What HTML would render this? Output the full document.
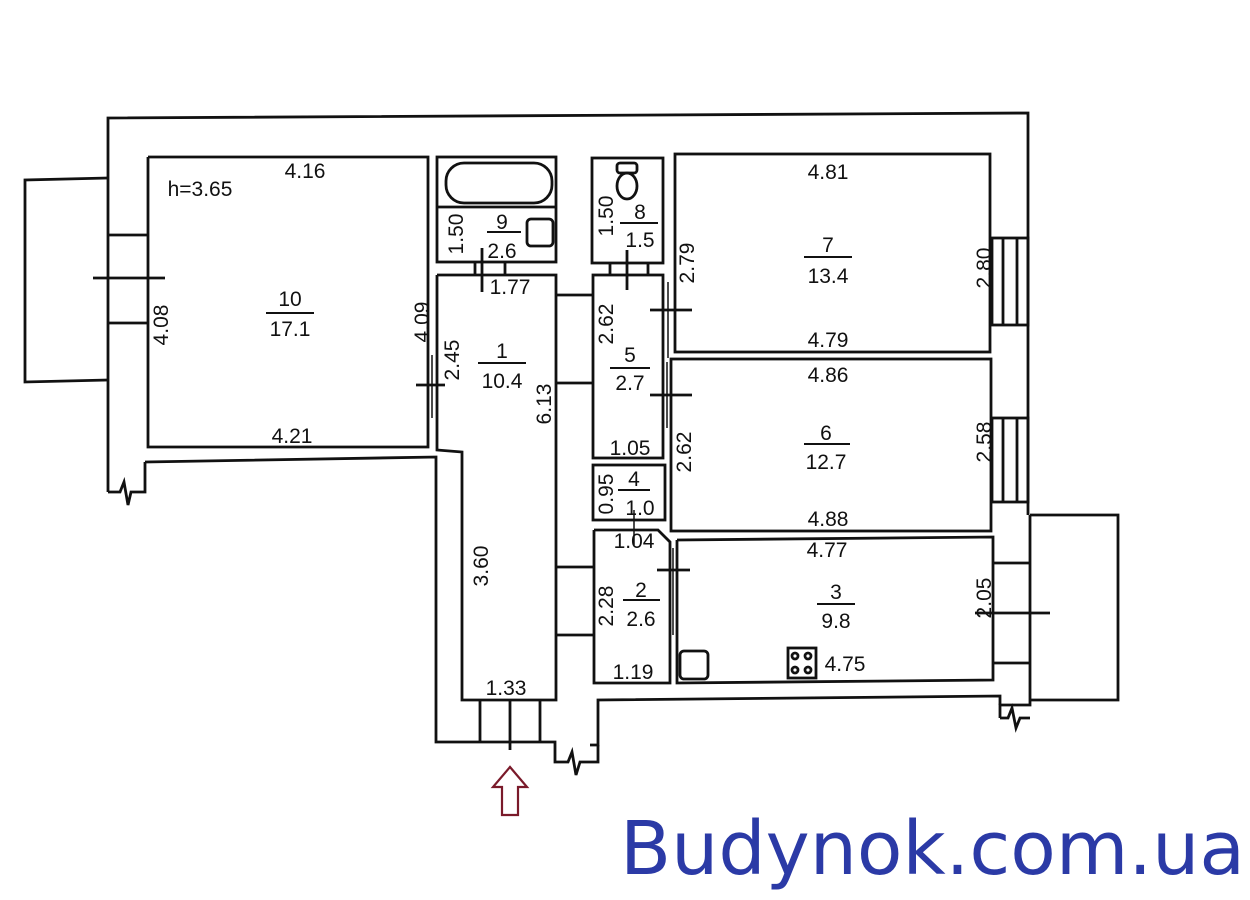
<!DOCTYPE html>
<html><head><meta charset="utf-8"><style>
html,body{margin:0;padding:0;background:#fff;width:1250px;height:900px;overflow:hidden}
svg text{font-family:"Liberation Sans",sans-serif;font-size:21px;fill:#111}
</style></head><body>
<svg width="1250" height="900" viewBox="0 0 1250 900" xmlns="http://www.w3.org/2000/svg">
<g fill="none" stroke="#111" stroke-width="2.8" stroke-linejoin="miter">
<polyline points="108,492 108,118 1028,113 1028,515"/>
<polyline points="1030,515 1030,705 1000,705 1000,718"/>
<path d="M1000,718 L1008,718 L1012,708 L1016,728 L1020,718 L1030,718"/>
<polyline points="108,178 25,180 25,382 108,380"/>
<polyline points="1030,515 1118,515 1118,700 1030,700"/>
<line x1="108" y1="235" x2="148" y2="235"/>
<line x1="108" y1="323" x2="148" y2="323"/>
<line x1="93" y1="278" x2="165" y2="278"/>
<path d="M108,492 L120,492 L124,482 L128,505 L131,492 L145,492 L145,462"/>
<polyline points="145,462 436,457 436,742 480,742"/>
<polyline points="148,157 428,157 428,447 148,447 148,157"/>
<rect x="437" y="157" width="119" height="105"/>
<line x1="437" y1="207" x2="556" y2="207"/>
<rect x="446" y="163" width="106" height="40" rx="18"/>
<rect x="527" y="219" width="26" height="27" rx="4"/>
<rect x="592" y="158" width="71" height="105"/>
<rect x="617" y="163" width="20" height="10" rx="3"/>
<ellipse cx="627" cy="186" rx="10" ry="13"/>
<line x1="475" y1="262" x2="475" y2="275"/>
<line x1="505" y1="262" x2="505" y2="275"/>
<line x1="482" y1="248" x2="482" y2="292"/>
<line x1="610" y1="263" x2="610" y2="275"/>
<line x1="648" y1="263" x2="648" y2="275"/>
<line x1="627" y1="250" x2="627" y2="290"/>
<polyline points="437,275 556,275 556,700 462,700 462,452 437,450 437,275"/>
<line x1="432" y1="355" x2="432" y2="418" stroke-width="1.5"/>
<line x1="416" y1="385" x2="445" y2="385"/>
<line x1="556" y1="295" x2="593" y2="295"/>
<line x1="556" y1="383" x2="593" y2="383"/>
<line x1="556" y1="567" x2="593" y2="567"/>
<line x1="556" y1="635" x2="593" y2="635"/>
<rect x="593" y="275" width="70" height="183"/>
<line x1="650" y1="310" x2="692" y2="310"/>
<line x1="650" y1="395" x2="692" y2="395"/>
<line x1="668" y1="282" x2="668" y2="358" stroke-width="1.5"/>
<line x1="667" y1="362" x2="667" y2="428" stroke-width="1.5"/>
<rect x="593" y="465" width="72" height="55"/>
<line x1="634" y1="510" x2="634" y2="545" stroke-width="1.5"/>
<polyline points="594,530 658,530 670,542 670,683 594,683 594,530"/>
<line x1="657" y1="570" x2="690" y2="570"/>
<line x1="673" y1="548" x2="673" y2="635" stroke-width="1.5"/>
<rect x="675" y="154" width="315" height="198"/>
<rect x="671" y="359" width="320" height="172"/>
<polyline points="677,540 993,537 993,680 677,683 677,540"/>
<rect x="680" y="651" width="28" height="28" rx="4"/>
<rect x="788" y="648" width="28" height="30"/>
<circle cx="795" cy="656" r="3"/><circle cx="808" cy="656" r="3"/>
<circle cx="795" cy="670" r="3"/><circle cx="808" cy="670" r="3"/>
<rect x="992" y="238" width="36" height="87"/>
<line x1="1003" y1="238" x2="1003" y2="325"/><line x1="1017" y1="238" x2="1017" y2="325"/>
<rect x="992" y="418" width="36" height="84"/>
<line x1="1003" y1="418" x2="1003" y2="502"/><line x1="1017" y1="418" x2="1017" y2="502"/>
<line x1="993" y1="563" x2="1030" y2="563"/>
<line x1="993" y1="663" x2="1030" y2="663"/>
<line x1="975" y1="613" x2="1050" y2="613"/>
<polyline points="1000,705 1000,696 598,700 598,745 590,745"/>
<path d="M545,742 L555,742 L555,762 L568,762 L572,752 L576,775 L580,762 L590,762 L598,762 L598,745"/>
<line x1="480" y1="742" x2="545" y2="742"/>
<line x1="480" y1="700" x2="480" y2="742"/>
<line x1="540" y1="700" x2="540" y2="742"/>
<line x1="510" y1="700" x2="510" y2="750"/>
</g>
<g stroke="#111" stroke-width="2">
<line x1="266" y1="313" x2="314" y2="313"/>
<line x1="478" y1="363" x2="526" y2="363"/>
<line x1="487" y1="232" x2="521" y2="232"/>
<line x1="620" y1="223" x2="658" y2="223"/>
<line x1="610" y1="368" x2="650" y2="368"/>
<line x1="618" y1="490" x2="650" y2="490"/>
<line x1="623" y1="600" x2="660" y2="600"/>
<line x1="804" y1="257" x2="852" y2="257"/>
<line x1="804" y1="444" x2="850" y2="444"/>
<line x1="817" y1="604" x2="855" y2="604"/>
</g>
<polygon points="510,767 527,787 518,787 518,815 502,815 502,787 493,787" fill="none" stroke="#7a1a2a" stroke-width="2.2"/>
<g text-anchor="middle">
<text x="305" y="178">4.16</text>
<text x="200" y="196">h=3.65</text>
<text x="290" y="306">10</text><text x="290" y="336">17.1</text>
<text x="292" y="443">4.21</text>
<text x="502" y="229">9</text><text x="502" y="258">2.6</text>
<text x="510" y="294">1.77</text>
<text x="502" y="358">1</text><text x="502" y="388">10.4</text>
<text x="506" y="695">1.33</text>
<text x="640" y="219">8</text><text x="640" y="247">1.5</text>
<text x="630" y="362">5</text><text x="630" y="390">2.7</text>
<text x="630" y="455">1.05</text>
<text x="634" y="486">4</text><text x="640" y="515">1.0</text>
<text x="634" y="548">1.04</text>
<text x="641" y="597">2</text><text x="641" y="626">2.6</text>
<text x="633" y="679">1.19</text>
<text x="828" y="179">4.81</text>
<text x="828" y="252">7</text><text x="828" y="283">13.4</text>
<text x="828" y="347">4.79</text>
<text x="828" y="382">4.86</text>
<text x="826" y="440">6</text><text x="826" y="469">12.7</text>
<text x="828" y="526">4.88</text>
<text x="827" y="557">4.77</text>
<text x="836" y="599">3</text><text x="836" y="628">9.8</text>
<text x="845" y="671">4.75</text>
</g>
<g text-anchor="middle">
<text transform="translate(168,325) rotate(-90)">4.08</text>
<text transform="translate(429,322) rotate(-90)">4.09</text>
<text transform="translate(459,360) rotate(-90)">2.45</text>
<text transform="translate(551,404) rotate(-90)">6.13</text>
<text transform="translate(488,566) rotate(-90)">3.60</text>
<text transform="translate(463,234) rotate(-90)">1.50</text>
<text transform="translate(613,216) rotate(-90)">1.50</text>
<text transform="translate(694,263) rotate(-90)">2.79</text>
<text transform="translate(613,324) rotate(-90)">2.62</text>
<text transform="translate(691,452) rotate(-90)">2.62</text>
<text transform="translate(613,494) rotate(-90)">0.95</text>
<text transform="translate(613,606) rotate(-90)">2.28</text>
<text transform="translate(991,268) rotate(-90)">2.80</text>
<text transform="translate(991,442) rotate(-90)">2.58</text>
<text transform="translate(991,598) rotate(-90)">2.05</text>
</g>
<text x="620" y="874" textLength="625" lengthAdjust="spacingAndGlyphs" style="font-size:74px;fill:#2b3aa6;font-family:'DejaVu Sans',sans-serif">Budynok.com.ua</text>
</svg>
</body></html>
